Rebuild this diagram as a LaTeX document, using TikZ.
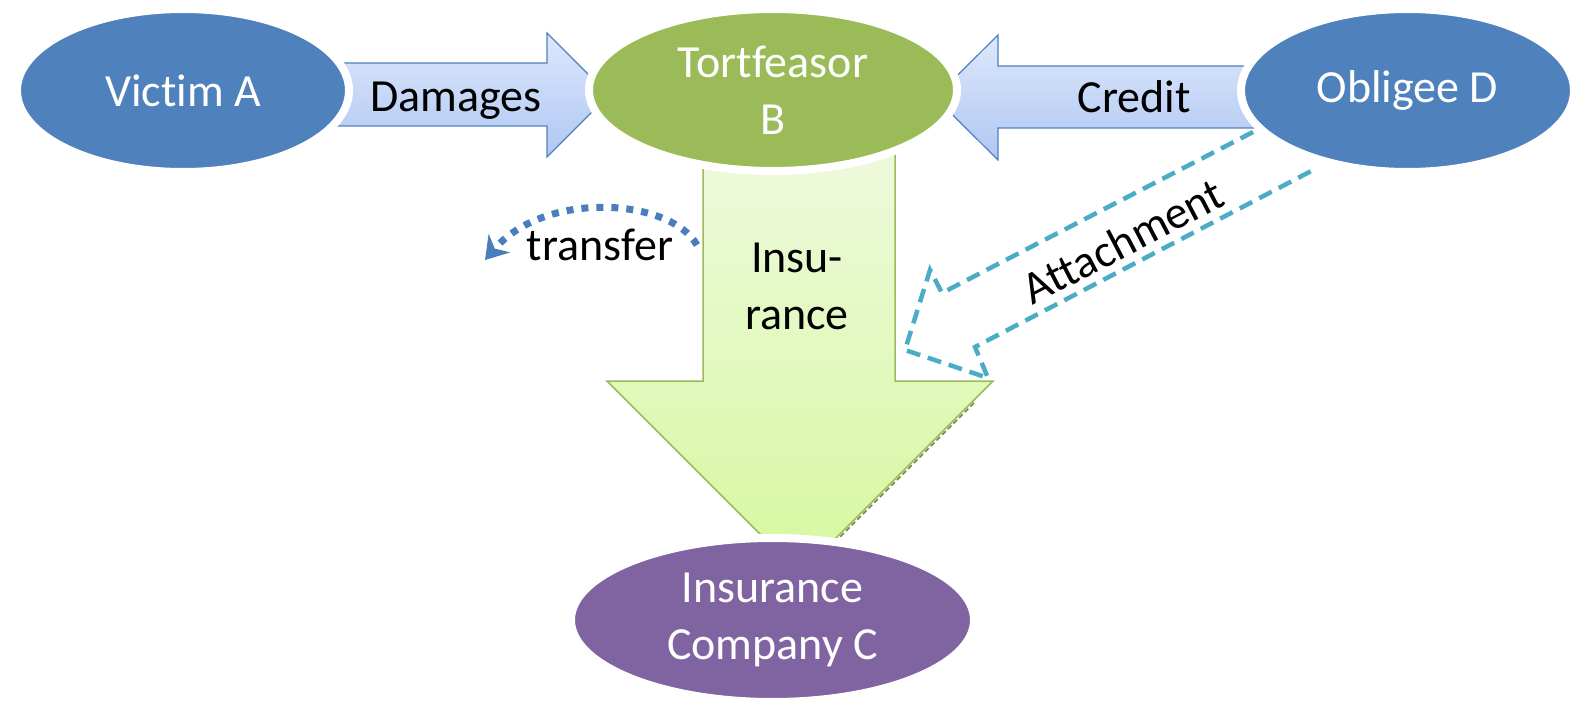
\documentclass[tikz,border=0pt]{standalone}
\usepackage{fontspec}
\setmainfont{Carlito}[Ligatures=NoCommon]
\usetikzlibrary{shapes.geometric,arrows.meta,shadows}
\definecolor{accblue}{HTML}{4F81BD}
\definecolor{accgreen}{HTML}{9BBB59}
\definecolor{accpurple}{HTML}{8064A2}
\definecolor{acccyan}{HTML}{4BACC6}
\definecolor{arrblueT}{HTML}{DDE8FC}
\definecolor{arrblueB}{HTML}{AFC7F2}
\definecolor{arrgreenT}{HTML}{EEF9DC}
\definecolor{arrgreenB}{HTML}{D6F8A0}
\definecolor{dotblue}{HTML}{4A7EBB}
\definecolor{darkolive}{HTML}{6E8C3A}
\tikzset{
  bigfont/.style={font=\fontsize{46}{57}\selectfont},
  party/.style={ellipse, draw=white, line width=8pt, inner sep=0pt, text=white, bigfont, align=center,
    drop shadow={shadow xshift=0pt, shadow yshift=-2pt, shadow scale=1.012, opacity=0.18}},
  bluearrow/.style={draw=accblue, line width=1.2pt, top color=arrblueT, bottom color=arrblueB, line join=miter},
  greenarrow/.style={draw=accgreen, line width=1.5pt, top color=arrgreenT, bottom color=arrgreenB, line join=miter},
  blabel/.style={text=black, bigfont, inner sep=0pt, align=center},
  attach/.style={draw=acccyan, line width=4.5pt, dash pattern=on 14pt off 8pt, line join=miter},
  transferline/.style={draw=dotblue, line width=7pt, dash pattern=on 7pt off 8pt},
  headshadow/.style={draw=darkolive, line width=1.5pt, dash pattern=on 5pt off 3pt}
}
\begin{document}
\begin{tikzpicture}[x=1pt,y=-1pt]
\useasboundingbox (0,0) rectangle (1575,706);
% block arrows
\path[greenarrow] (703,150) -- (703,381) -- (607,381) -- (800,574) -- (993,381) -- (895,381) -- (895,150) -- cycle;
\coordinate (hs0) at (974,403);
\coordinate (hs1) at (838,539);
\draw[headshadow] (hs0) -- (hs1);
\path[bluearrow] (320,63) -- (547,63) -- (547,33) -- (609,95) -- (547,157) -- (547,126) -- (320,126) -- cycle;
\path[bluearrow] (1270,66) -- (998,66) -- (998,35) -- (935,97.5) -- (998,160) -- (998,128) -- (1270,128) -- cycle;
% attachment dashed outline arrow
\coordinate (a1) at (1253,132);
\coordinate (a2) at (1317,168);
\draw[attach] (a1) -- (942,293) -- (930,270) -- (905,350) -- (988,378) -- (975,347) -- (a2);
% parties
\node[party, fill=accblue, minimum width=332pt, minimum height=163pt] (A) at (183,90.5) {Victim A};
\node[party, fill=accgreen, minimum width=368pt, minimum height=162pt] (B) at (773,90) {Tortfeasor\\B};
\node[party, fill=accblue, minimum width=333pt, minimum height=163pt] (D) at (1407.5,90.5) {Obligee D};
\node[party, fill=accpurple, minimum width=403pt, minimum height=164pt] (C) at (772.5,620) {Insurance\\Company C};
% labels
\node[blabel, anchor=base] (dmg) at (456,112) {Damages};
\node[blabel, anchor=base] (cred) at (1134,113) {Credit};
\node[blabel] (ins) at (797,286) {Insu-\\rance};
\node[blabel, rotate=27.5] (att) at (1123,241) {Attachment};
\node[blabel, anchor=base] (trf) at (600,260) {transfer};
% transfer dotted arrow
\coordinate (t0) at (697,245);
\coordinate (t1) at (485,260);
\draw[transferline, -{Stealth[length=22pt,width=28pt,inset=7pt]}] (t0) .. controls (670,198) and (545,190) .. (t1);
\end{tikzpicture}
\end{document}
